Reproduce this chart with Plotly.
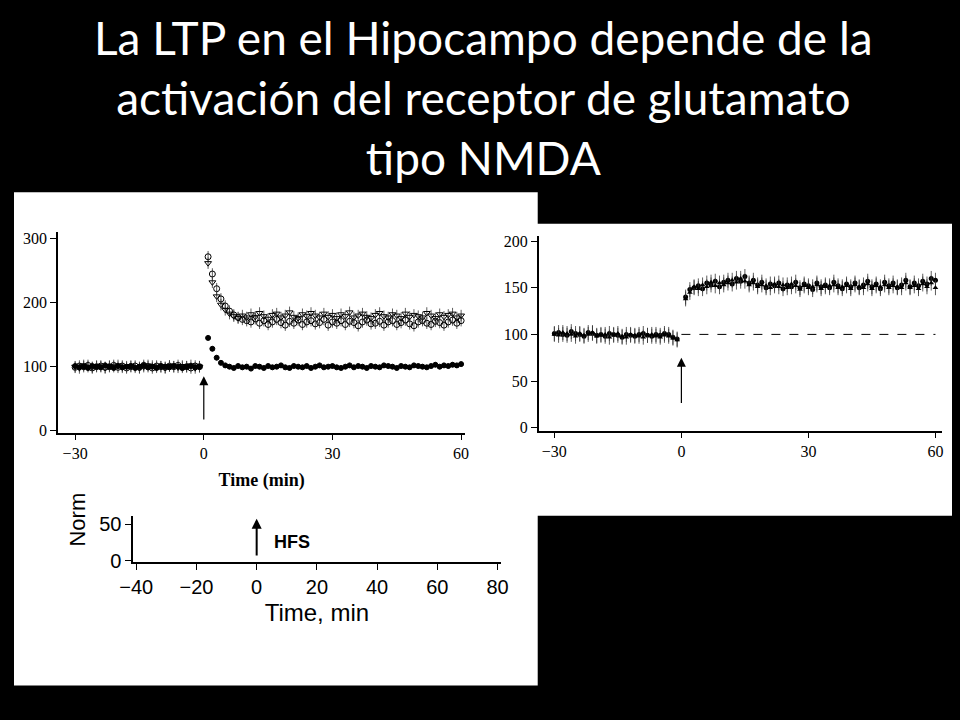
import plotly.graph_objects as go

# ---------------- data ----------------
t_base = list(range(-30, 0))
t_post = list(range(1, 61))

L_base_filled = [101,99,100,98,101,100,99,102,100,98,101,99,100,101,98,100,102,99,100,98,101,100,99,101,100,98,100,101,99,100]
L_base_circ = [99,101,100,102,98,100,101,99,100,102,99,101,98,100,101,99,102,100,98,101,100,99,101,100,102,99,100,98,101,100]
L_base_tri = [100,98,102,100,99,101,100,98,101,100,102,99,100,101,99,98,100,102,101,99,100,98,101,100,99,101,100,102,98,100]
L_post_circ = [272,245,222,206,195,187,181,177,174,172,170,175,168,172,166,170,174,169,165,171,168,173,166,170,172,167,169,174,165,170,168,172,166,171,169,164,170,173,167,168,171,165,170,172,166,169,173,167,164,170,172,168,166,171,169,165,170,173,168,172]
L_post_tri = [262,232,210,197,189,183,179,176,180,177,182,178,184,179,175,181,183,177,180,185,178,176,182,179,184,180,177,183,178,181,176,182,179,185,177,180,183,178,176,181,184,179,177,182,180,176,183,178,181,179,177,184,180,176,182,178,181,183,177,180]
L_post_filled = [145,128,114,106,102,100,98,101,99,100,97,101,100,98,101,99,100,102,99,98,101,100,99,101,98,100,102,99,100,101,99,98,100,102,99,101,100,98,101,100,99,102,101,100,98,101,100,99,102,101,100,99,101,103,100,102,101,103,102,104]

R_base_circ = [101,102,100,99,103,101,100,98,102,101,99,100,98,101,100,99,97,100,99,98,100,101,99,98,100,99,101,100,97,95]
R_base_tri = [100,99,102,101,100,98,101,99,100,102,98,99,100,97,99,101,98,97,100,99,98,97,99,100,98,97,99,98,96,94]
R_post_circ = [140,148,150,152,149,155,153,157,151,156,158,154,160,157,162,155,158,153,156,150,154,152,155,149,153,151,156,150,154,152,148,155,151,153,150,156,152,149,154,151,155,150,153,157,151,154,149,156,152,155,150,153,158,151,155,152,157,154,160,158]
R_post_tri = [138,145,151,149,153,151,156,152,155,153,155,158,156,160,157,153,155,151,153,152,150,154,151,153,150,154,152,148,152,150,151,153,149,151,152,153,150,151,152,149,153,151,150,154,149,152,151,153,150,152,151,150,155,150,152,149,154,151,155,150]

fig = go.Figure()
serif = "Liberation Serif"

def err(e):
    return dict(type="constant", value=e, color="#333", thickness=0.8, width=0)

for base, post, sym, e, s in [(L_base_circ, L_post_circ, "circle-open", 9, 6),
                              (L_base_tri, L_post_tri, "triangle-down-open", 9, 6),
                              (L_base_filled, L_post_filled, "circle", 4, 5)]:
    fig.add_trace(go.Scatter(x=t_base + t_post, y=base + post, mode="markers",
                             marker=dict(symbol=sym, size=s, color="black", line=dict(width=1, color="black")),
                             error_y=err(e), xaxis="x", yaxis="y", showlegend=False))
for base, post, sym in [(R_base_circ, R_post_circ, "circle"), (R_base_tri, R_post_tri, "triangle-up")]:
    fig.add_trace(go.Scatter(x=t_base + t_post, y=base + post, mode="markers",
                             marker=dict(symbol=sym, size=5, color="black"),
                             error_y=err(8), xaxis="x2", yaxis="y2", showlegend=False))
fig.add_trace(go.Scatter(x=[0, 60], y=[100, 100], mode="lines", line=dict(color="black", dash="dash", width=1),
                         xaxis="x2", yaxis="y2", showlegend=False))
fig.add_trace(go.Scatter(x=[], y=[], xaxis="x3", yaxis="y3", showlegend=False))

W, H = 960, 720
def dx(a, b): return [a / W, b / W]
def dy(top, bot): return [1 - bot / H, 1 - top / H]

axcommon = dict(showgrid=False, zeroline=False, showline=True, linecolor="black", linewidth=1.5, ticks="outside",
                tickcolor="black", ticklen=6, tickfont=dict(family=serif, size=16, color="black"))
sans20 = dict(family="Liberation Sans", size=20, color="black")
fig.update_layout(
    width=W, height=H, margin=dict(l=0, r=0, t=0, b=0),
    paper_bgcolor="black", plot_bgcolor="rgba(0,0,0,0)",
    xaxis=dict(domain=dx(45, 462), range=[-34, 61], tickvals=[-30, 0, 30, 60], anchor="y",
               title=dict(text="<b>Time (min)</b>", font=dict(family=serif, size=18, color="black"), standoff=12), **axcommon),
    yaxis=dict(domain=dy(233, 437), range=[-3, 310], tickvals=[0, 100, 200, 300], anchor="x", **axcommon),
    xaxis2=dict(domain=dx(537, 950), range=[-33.7, 61.6], tickvals=[-30, 0, 30, 60], anchor="y2", **axcommon),
    yaxis2=dict(domain=dy(237, 435), range=[-3, 205], tickvals=[0, 50, 100, 150, 200], anchor="x2", **axcommon),
    xaxis3=dict(domain=dx(122, 498), range=[-41, 81], tickvals=list(range(-40, 81, 20)), anchor="y3",
                title=dict(text="Time, min", font=dict(family="Liberation Sans", size=24, color="black"), standoff=8),
                **{**axcommon, "tickfont": sans20}),
    yaxis3=dict(domain=dy(522, 569), range=[-2, 62], tickvals=[0, 50], anchor="x3",
                **{**axcommon, "tickfont": sans20}),
    shapes=[
        dict(type="rect", xref="paper", yref="paper", x0=0, x1=536 / W, y0=1 - 695 / H, y1=1 - 192 / H,
             fillcolor="white", line=dict(width=0), layer="below"),
        dict(type="rect", xref="paper", yref="paper", x0=487 / W, x1=1, y0=1 - 522 / H, y1=1 - 224 / H,
             fillcolor="white", line=dict(width=0), layer="below"),
    ],
    annotations=[
        dict(text="La LTP en el Hipocampo depende de la<br>activación del receptor de glutamato<br>tipo NMDA",
             xref="paper", yref="paper", x=0.5, y=1 - 95 / H, yanchor="middle", showarrow=False,
             font=dict(family="Lato", size=46, color="white")),
        dict(x=0, y=85, ax=0, ay=15, xref="x", yref="y", axref="x", ayref="y", text="", showarrow=True,
             arrowhead=2, arrowsize=1.5, arrowwidth=1.2, arrowcolor="black"),
        dict(x=0, y=75, ax=0, ay=25, xref="x2", yref="y2", axref="x2", ayref="y2", text="", showarrow=True,
             arrowhead=2, arrowsize=1.5, arrowwidth=1.2, arrowcolor="black"),
        dict(x=0, y=58, ax=0, ay=5, xref="x3", yref="y3", axref="x3", ayref="y3", text="", showarrow=True,
             arrowhead=2, arrowsize=1, arrowwidth=2, arrowcolor="black"),
        dict(text="<b>HFS</b>", x=5, y=25, xref="x3", yref="y3", xanchor="left", showarrow=False,
             font=dict(family="Liberation Sans", size=18, color="black")),
        dict(text="Norm", x=50 / W, y=1 - 555 / H, xref="paper", yref="paper", textangle=-90, showarrow=False,
             font=dict(family="Liberation Sans", size=22, color="black")),
    ],
)
fig.write_html("out.html", config={"displayModeBar": False},
               post_script="document.body.style.margin='0';document.body.style.overflow='hidden';document.body.style.background='black';")
